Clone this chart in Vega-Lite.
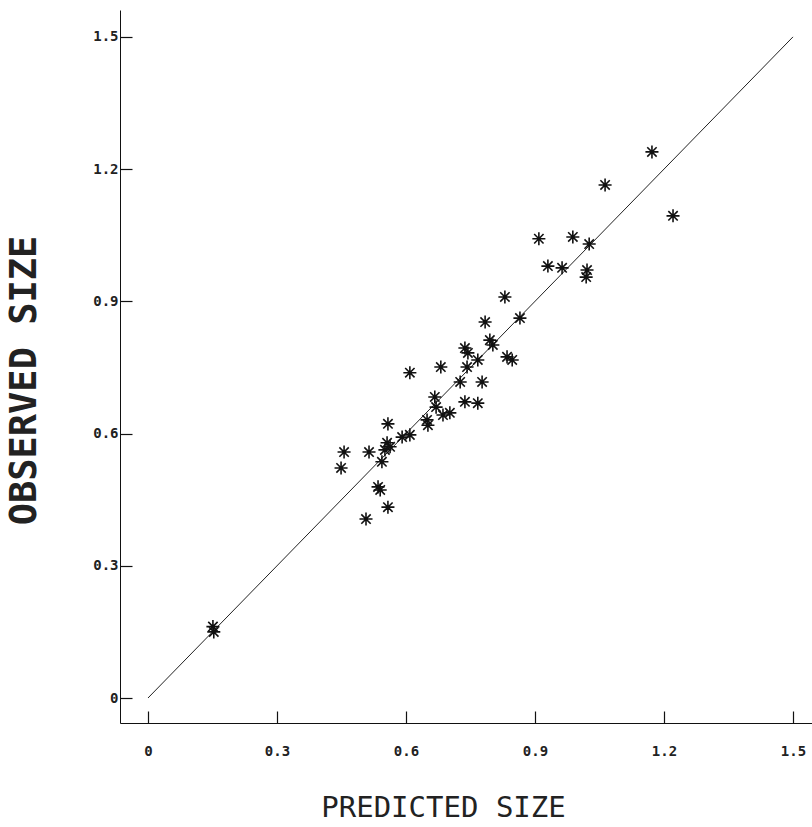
{
  "$schema": "https://vega.github.io/schema/vega-lite/v6.json",
  "autosize": {"type": "none"},
  "padding": {"left": 120, "top": 10, "right": 0, "bottom": 104},
  "width": 692,
  "height": 713,
  "background": "white",
  "config": {
    "view": {"stroke": null},
    "axis": {
      "grid": false,
      "domainColor": "#111",
      "domainWidth": 1,
      "tickColor": "#111",
      "tickWidth": 1.2,
      "tickSize": -12,
      "labelFont": "DejaVu Sans Mono",
      "labelFontSize": 14,
      "labelFontWeight": "bold",
      "labelColor": "#222",
      "titleFont": "DejaVu Sans Mono",
      "titleColor": "#222"
    }
  },
  "layer": [
    {
      "data": {"values": [{"p": 0, "o": 0}, {"p": 1.5, "o": 1.5}]},
      "mark": {"type": "line", "color": "#222", "strokeWidth": 1},
      "encoding": {
        "x": {"field": "p", "type": "quantitative", "scale": {"domain": [-0.0651, 1.5442], "nice": false, "zero": false},
          "axis": {"values": [0, 0.3, 0.6, 0.9, 1.2, 1.5], "labelExpr": "datum.value == 0 ? '0' : format(datum.value, '.1f')",
            "title": "PREDICTED SIZE", "titleFontSize": 29, "titleFontWeight": "normal", "titleX": 323, "titleY": 93, "titleBaseline": "alphabetic", "titleAlign": "center",
            "labelPadding": 40, "labelBaseline": "middle", "labelFlush": false}},
        "y": {"field": "o", "type": "quantitative", "scale": {"domain": [-0.0567, 1.561], "nice": false, "zero": false},
          "axis": {"values": [0, 0.3, 0.6, 0.9, 1.2, 1.5], "labelExpr": "datum.value == 0 ? '0' : format(datum.value, '.1f')",
            "title": "OBSERVED SIZE", "titleFontSize": 37, "titleFontWeight": "bold", "titleAngle": 270, "titleX": -96, "titleY": 370, "titleBaseline": "middle", "titleAlign": "center",
            "labelPadding": 14, "labelFlush": false}}
      }
    },
    {
      "data": {"values": [
        {"p": 0.151, "o": 0.162}, {"p": 0.153, "o": 0.150}, {"p": 0.456, "o": 0.558}, {"p": 0.449, "o": 0.522},
        {"p": 0.507, "o": 0.406}, {"p": 0.514, "o": 0.558}, {"p": 0.540, "o": 0.472}, {"p": 0.535, "o": 0.479},
        {"p": 0.558, "o": 0.433}, {"p": 0.544, "o": 0.536}, {"p": 0.558, "o": 0.622}, {"p": 0.556, "o": 0.579},
        {"p": 0.563, "o": 0.570}, {"p": 0.551, "o": 0.563}, {"p": 0.591, "o": 0.592}, {"p": 0.609, "o": 0.597},
        {"p": 0.609, "o": 0.738}, {"p": 0.649, "o": 0.631}, {"p": 0.651, "o": 0.619}, {"p": 0.667, "o": 0.683},
        {"p": 0.670, "o": 0.660}, {"p": 0.681, "o": 0.751}, {"p": 0.686, "o": 0.642}, {"p": 0.702, "o": 0.647},
        {"p": 0.726, "o": 0.717}, {"p": 0.742, "o": 0.751}, {"p": 0.737, "o": 0.794}, {"p": 0.744, "o": 0.783},
        {"p": 0.737, "o": 0.672}, {"p": 0.767, "o": 0.669}, {"p": 0.767, "o": 0.767}, {"p": 0.777, "o": 0.717},
        {"p": 0.784, "o": 0.853}, {"p": 0.795, "o": 0.812}, {"p": 0.802, "o": 0.801}, {"p": 0.830, "o": 0.910},
        {"p": 0.835, "o": 0.774}, {"p": 0.847, "o": 0.767}, {"p": 0.865, "o": 0.862}, {"p": 0.909, "o": 1.042},
        {"p": 0.930, "o": 0.980}, {"p": 0.963, "o": 0.976}, {"p": 0.988, "o": 1.046}, {"p": 1.026, "o": 1.030},
        {"p": 1.021, "o": 0.971}, {"p": 1.019, "o": 0.955}, {"p": 1.063, "o": 1.164}, {"p": 1.172, "o": 1.239},
        {"p": 1.221, "o": 1.094}
      ]},
      "mark": {"type": "point", "shape": "M-1,0L1,0M0,-1L0,1M-0.72,-0.72L0.72,0.72M-0.72,0.72L0.72,-0.72", "size": 170, "filled": false, "stroke": "#111", "strokeWidth": 1.6, "opacity": 1},
      "encoding": {
        "x": {"field": "p", "type": "quantitative"},
        "y": {"field": "o", "type": "quantitative"}
      }
    }
  ]
}
